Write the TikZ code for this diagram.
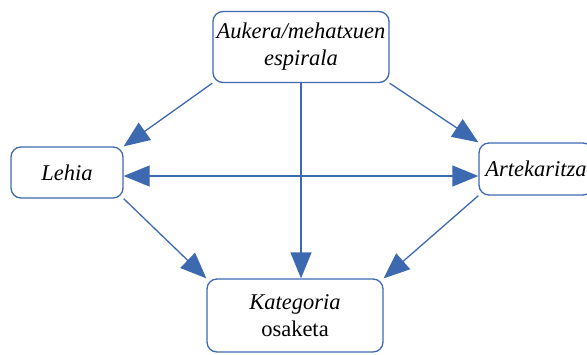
\documentclass[tikz,border=0pt]{standalone}
\usepackage{fontspec}
\setmainfont{Liberation Serif}
\usetikzlibrary{arrows.meta}
\definecolor{edge}{HTML}{3C69B0}
\begin{document}
\begin{tikzpicture}[x=1pt,y=-1pt,
  box/.style={draw=edge,line width=1.3pt,rounded corners=10pt,fill=white,align=center,inner sep=0pt,font=\fontsize{22.5}{27}\selectfont},
  conn/.style={draw=edge,line width=1.3pt,-{Triangle[length=26pt,width=21pt]}},
  conn2/.style={draw=edge,line width=1.3pt,{Triangle[length=26pt,width=21pt]}-{Triangle[length=26pt,width=21pt]}}]
\useasboundingbox (0,0) rectangle (587,354);
\node[box,minimum width=176pt,minimum height=71pt] (top) at (301,47) {\itshape Aukera/mehatxuen\\\itshape espirala};
\node[box,minimum width=112pt,minimum height=51pt] (lehia) at (67,172.5) {\itshape Lehia};
\node[box,minimum width=114pt,minimum height=52pt] (art) at (536,169) {\itshape Artekaritza};
\node[box,minimum width=176pt,minimum height=73pt] (kat) at (295,315.5) {\itshape Kategoria\\ osaketa};
\coordinate (h) at (0,176);
\draw[conn] (top.south west) -- (lehia.north east);
\draw[conn] (top.south east) -- (art.north west);
\draw[conn] (top.south) -- (top.south |- kat.north);
\draw[conn] (lehia.south east) -- (kat.north west);
\draw[conn] (art.south west) -- (kat.north east);
\draw[conn2] (lehia.east |- h) -- (art.west |- h);
\end{tikzpicture}
\end{document}
